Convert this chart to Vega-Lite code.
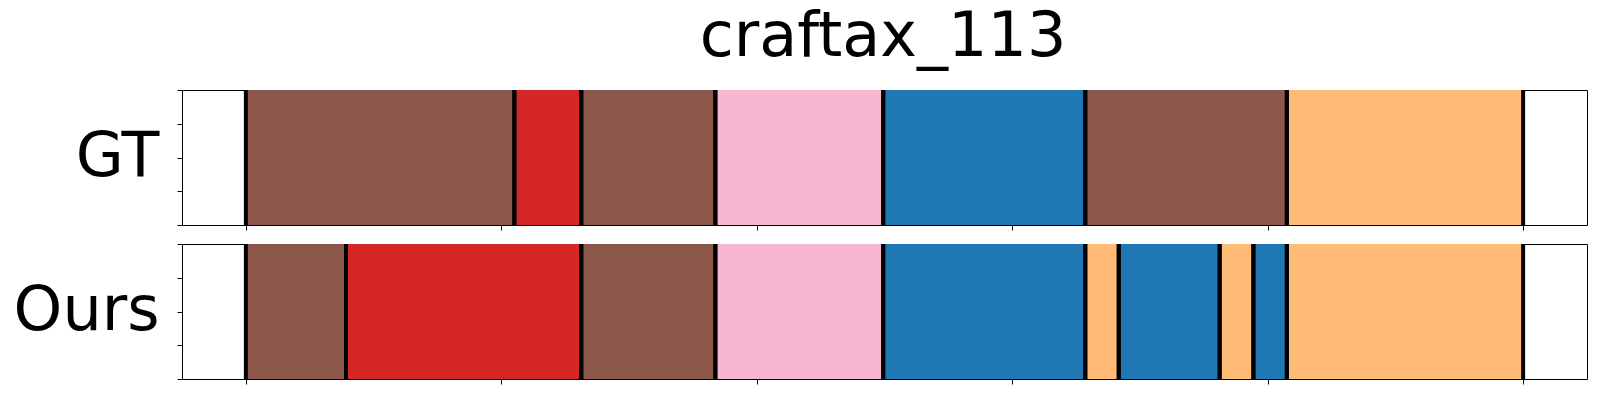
{
  "$schema": "https://vega.github.io/schema/vega-lite/v6.json",
  "padding": {"left": 12, "top": 5, "right": 5, "bottom": 5},
  "datasets": {
    "segments": [
      {"track": "GT", "action": "brown", "start": 0, "end": 105.1},
      {"track": "GT", "action": "red", "start": 105.1, "end": 131.3},
      {"track": "GT", "action": "brown", "start": 131.3, "end": 183.8},
      {"track": "GT", "action": "pink", "start": 183.8, "end": 249.5},
      {"track": "GT", "action": "blue", "start": 249.5, "end": 328.6},
      {"track": "GT", "action": "brown", "start": 328.6, "end": 407.5},
      {"track": "GT", "action": "orange", "start": 407.5, "end": 500},
      {"track": "Ours", "action": "brown", "start": 0, "end": 39.2},
      {"track": "Ours", "action": "red", "start": 39.2, "end": 131.3},
      {"track": "Ours", "action": "brown", "start": 131.3, "end": 183.8},
      {"track": "Ours", "action": "pink", "start": 183.8, "end": 249.5},
      {"track": "Ours", "action": "blue", "start": 249.5, "end": 328.6},
      {"track": "Ours", "action": "orange", "start": 328.6, "end": 341.7},
      {"track": "Ours", "action": "blue", "start": 341.7, "end": 381.2},
      {"track": "Ours", "action": "orange", "start": 381.2, "end": 394.4},
      {"track": "Ours", "action": "blue", "start": 394.4, "end": 407.5},
      {"track": "Ours", "action": "orange", "start": 407.5, "end": 500}
    ]
  },
  "title": {"text": "craftax_113", "fontSize": 62, "font": "DejaVu Sans", "fontWeight": "normal", "color": "black", "anchor": "middle", "baseline": "alphabetic", "offset": -30, "dx": 83},
  "spacing": 10,
  "vconcat": [
    {
      "width": 1405,
      "height": 135,
      "data": {"name": "segments"},
      "transform": [{"filter": "datum.track === 'GT'"}],
      "layer": [
        {
          "mark": {"type": "rect"},
          "encoding": {
            "x": {"field": "start", "type": "quantitative", "scale": {"domain": [-25, 525], "nice": false, "zero": false},
                  "axis": {"values": [0, 100, 200, 300, 400, 500], "labels": false, "domain": false, "grid": false, "ticks": true, "tickSize": 5, "tickColor": "black", "tickWidth": 1, "title": null}},
            "x2": {"field": "end"},
            "y": {"datum": 0, "type": "quantitative", "scale": {"domain": [0, 1], "nice": false},
                  "axis": {"values": [0, 0.25, 0.5, 0.75, 1], "labels": false, "domain": false, "grid": false, "ticks": true, "tickSize": 5, "tickColor": "black", "tickWidth": 1,
                           "title": "GT", "titleAngle": 0, "titleAlign": "right", "titleBaseline": "alphabetic", "titleX": -23, "titleY": 85, "titleFontSize": 62, "titleFont": "DejaVu Sans", "titleFontWeight": "normal", "titleColor": "black"}},
            "y2": {"datum": 1},
            "color": {"field": "action", "type": "nominal", "legend": null,
                      "scale": {"domain": ["brown", "red", "pink", "blue", "orange"], "range": ["#8c564b", "#d62728", "#f7b6d2", "#1f77b4", "#ffbb78"]}}
          }
        },
        {"mark": {"type": "rule", "color": "black", "strokeWidth": 4}, "encoding": {"x": {"field": "start", "type": "quantitative"}}},
        {"mark": {"type": "rule", "color": "black", "strokeWidth": 4}, "encoding": {"x": {"field": "end", "type": "quantitative"}}}
      ]
    },
    {
      "width": 1405,
      "height": 135,
      "data": {"name": "segments"},
      "transform": [{"filter": "datum.track === 'Ours'"}],
      "layer": [
        {
          "mark": {"type": "rect"},
          "encoding": {
            "x": {"field": "start", "type": "quantitative", "scale": {"domain": [-25, 525], "nice": false, "zero": false},
                  "axis": {"values": [0, 100, 200, 300, 400, 500], "labels": false, "domain": false, "grid": false, "ticks": true, "tickSize": 5, "tickColor": "black", "tickWidth": 1, "title": null}},
            "x2": {"field": "end"},
            "y": {"datum": 0, "type": "quantitative", "scale": {"domain": [0, 1], "nice": false},
                  "axis": {"values": [0, 0.25, 0.5, 0.75, 1], "labels": false, "domain": false, "grid": false, "ticks": true, "tickSize": 5, "tickColor": "black", "tickWidth": 1,
                           "title": "Ours", "titleAngle": 0, "titleAlign": "right", "titleBaseline": "alphabetic", "titleX": -23, "titleY": 85, "titleFontSize": 62, "titleFont": "DejaVu Sans", "titleFontWeight": "normal", "titleColor": "black"}},
            "y2": {"datum": 1},
            "color": {"field": "action", "type": "nominal", "legend": null,
                      "scale": {"domain": ["brown", "red", "pink", "blue", "orange"], "range": ["#8c564b", "#d62728", "#f7b6d2", "#1f77b4", "#ffbb78"]}}
          }
        },
        {"mark": {"type": "rule", "color": "black", "strokeWidth": 4}, "encoding": {"x": {"field": "start", "type": "quantitative"}}},
        {"mark": {"type": "rule", "color": "black", "strokeWidth": 4}, "encoding": {"x": {"field": "end", "type": "quantitative"}}}
      ]
    }
  ],
  "config": {"view": {"stroke": "black", "strokeWidth": 1}, "font": "DejaVu Sans"}
}
